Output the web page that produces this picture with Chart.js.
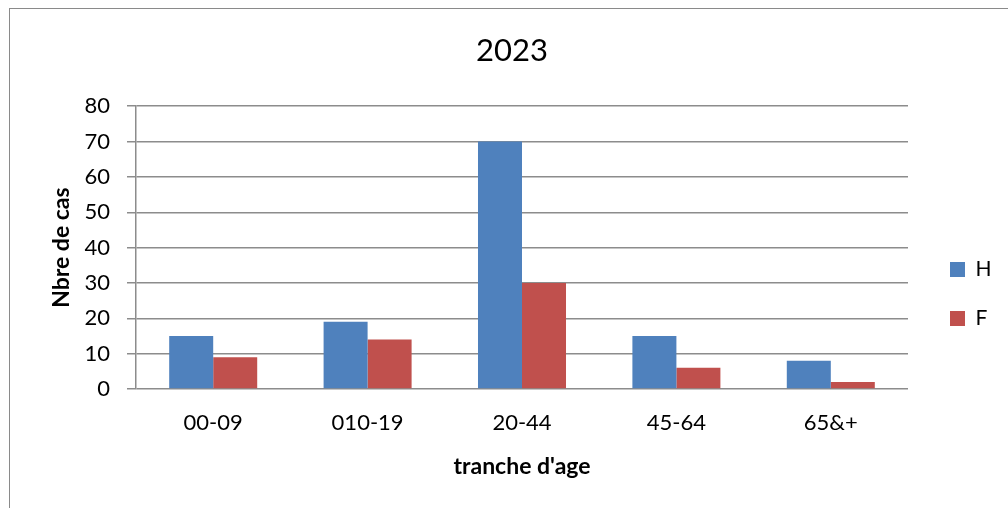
<!DOCTYPE html>
<html>
<head>
<meta charset="utf-8">
<script src="https://cdn.jsdelivr.net/npm/chart.js@4/dist/chart.umd.min.js"></script>
<style>
  html, body { margin: 0; padding: 0; background: #fff; overflow: hidden; }
  #frame {
    position: absolute; left: 9px; top: 8px;
    width: 1100px; height: 600px;
    border: 1px solid #8a8a8a;
  }
  #wrap { position: absolute; left: 0; top: 0; width: 1008px; height: 508px; }
</style>
</head>
<body>
<div id="frame"></div>
<div id="wrap"><canvas id="chart" width="1008" height="508"></canvas></div>
<script>
// Nombre de cas par tranche d'âge, 2023
const tranches = ["00-09", "010-19", "20-44", "45-64", "65&+"]
const hommes = [15, 19, 70, 15, 8]
const femmes = [9, 14, 30, 6, 2]
const yMax = 80
const yStep = 10

const grille = "#8c8c8c"
const legendPad = 28

// Place la légende à droite et recentre le titre sur le cadre
const placeBlocs = {
  id: "placeBlocs",
  afterLayout(chart) {
    const lg = chart.legend
    const w = lg.right - lg.left
    lg.left = 950 - legendPad
    lg.right = lg.left + w
    const dy = 294 - (lg.top + lg.bottom) / 2
    lg.top += dy
    lg.bottom += dy

    const tb = chart.titleBlock
    tb.left = 16
    tb.right = 1008
  },
}

window.addEventListener("load", () => {
  const ctx = document.getElementById("chart").getContext("2d")
  new Chart(ctx, {
    type: "bar",
    data: {
      labels: tranches,
      datasets: [
        { label: "H", data: hommes, backgroundColor: "#4f81bd", borderWidth: 0 },
        { label: "F", data: femmes, backgroundColor: "#c0504d", borderWidth: 0 },
      ],
    },
    plugins: [placeBlocs],
    options: {
      responsive: false,
      animation: false,
      layout: { padding: { left: 0, right: 30, top: 0, bottom: 0 } },
      datasets: { bar: { categoryPercentage: 0.57, barPercentage: 1 } },
      plugins: {
        title: {
          display: true,
          text: "2023",
          color: "#000",
          font: { family: "Lato", size: 31, weight: "normal", lineHeight: 1.2 },
          padding: { top: 32, bottom: 37 },
        },
        legend: {
          position: "right",
          align: "center",
          maxWidth: 70,
          labels: {
            boxWidth: 15,
            boxHeight: 15,
            padding: legendPad,
            color: "#000",
            font: { family: "Lato", size: 21 },
          },
        },
        tooltip: { enabled: false },
      },
      scales: {
        x: {
          afterFit: (s) => { s.height = 119 },
          grid: { display: false, drawTicks: false },
          border: { display: false },
          ticks: { color: "#000", padding: 21, font: { family: "Lato", size: 22 } },
          title: {
            display: true,
            text: "tranche d'age",
            color: "#000",
            font: { family: "Lato", size: 23, weight: "bold", lineHeight: 1.2 },
            padding: { top: 0, bottom: 28 },
          },
        },
        y: {
          min: 0,
          max: yMax,
          afterFit: (s) => { s.width = 136 },
          grid: { color: grille, lineWidth: 1.5, tickLength: 9 },
          border: { display: true, color: grille, width: 1.5 },
          ticks: { stepSize: yStep, color: "#000", padding: 17, font: { family: "Lato", size: 22 } },
          title: {
            display: true,
            text: "Nbre de cas",
            color: "#000",
            font: { family: "Lato", size: 23, weight: "bold", lineHeight: 1.2 },
            padding: { top: 48, bottom: 0 },
          },
        },
      },
    },
  })
})
</script>
</body>
</html>
